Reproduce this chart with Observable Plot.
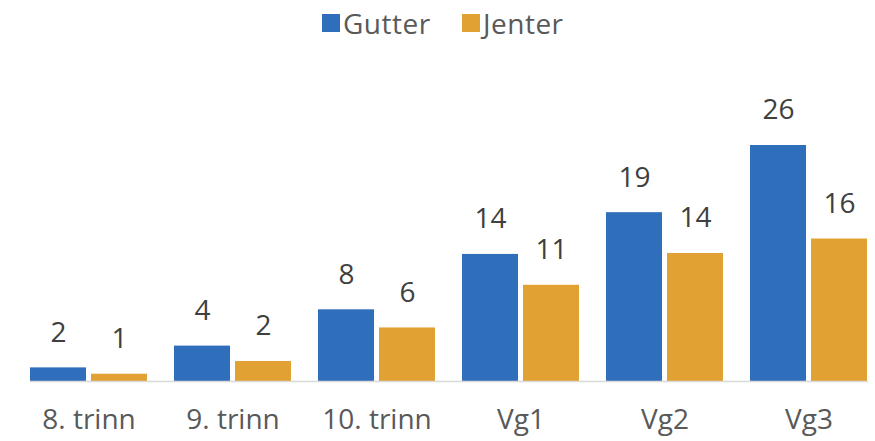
<!DOCTYPE html>
<html>
<head>
<meta charset="utf-8">
<script src="https://cdn.jsdelivr.net/npm/d3@7"></script>
<script src="https://cdn.jsdelivr.net/npm/@observablehq/plot@0.6"></script>
<style>
  html, body { margin: 0; padding: 0; background: #fff; }
  #legend { position: relative; height: 45px; font-family: "Open Sans", "Noto Sans", sans-serif; font-size: 28px; color: #595959; letter-spacing: 0.5px; }
  #legend .item { position: absolute; top: 4px; display: flex; align-items: center; gap: 3px; line-height: 38px; }
  #legend .sw { width: 18px; height: 18px; display: inline-block; }
</style>
</head>
<body>
<div id="legend"></div>
<div id="chart"></div>
<script>
const categories = ["8. trinn", "9. trinn", "10. trinn", "Vg1", "Vg2", "Vg3"];
const series = ["Gutter", "Jenter"];
// bar heights
const gutter = [1.5, 3.9, 7.9, 14.0, 18.6, 26.0];
const jenter = [0.8, 2.2, 5.9, 10.6, 14.1, 15.7];
// value labels as printed
const gutterLabels = ["2", "4", "8", "14", "19", "26"];
const jenterLabels = ["1", "2", "6", "11", "14", "16"];
const colors = ["#2f6eba", "#e1a133"];

const data = [];
categories.forEach((c, i) => {
  data.push({cat: c, sex: "Gutter", value: gutter[i], label: gutterLabels[i]});
  data.push({cat: c, sex: "Jenter", value: jenter[i], label: jenterLabels[i]});
});

const legend = document.getElementById("legend");
const legendLeft = [322, 462];
series.forEach((s, i) => {
  const it = document.createElement("span");
  it.className = "item";
  it.style.left = legendLeft[i] + "px";
  const sw = document.createElement("span");
  sw.className = "sw";
  sw.style.background = colors[i];
  it.appendChild(sw);
  it.appendChild(document.createTextNode(s));
  legend.appendChild(it);
});

const chart = Plot.plot({
  width: 875,
  height: 396,
  marginTop: 100,
  marginBottom: 60,
  marginLeft: 15,
  marginRight: 0,
  style: {fontFamily: "'Open Sans', 'Noto Sans', sans-serif", fontSize: "28px", color: "#595959", background: "#fff"},
  fx: {domain: categories, range: [15, 882], paddingInner: 0.19, paddingOuter: 0.1, label: null},
  x: {domain: series, paddingInner: 0.09, paddingOuter: 0, axis: null},
  y: {domain: [0, 26], axis: null},
  color: {domain: series, range: colors},
  marks: [
    Plot.barY(data, {fx: "cat", x: "sex", y: "value", fill: "sex"}),
    Plot.frame({anchor: "bottom", facet: "super", stroke: "#d9d9d9", strokeWidth: 1.5}),
    Plot.text(data, {fx: "cat", x: "sex", y: "value", text: "label", dy: -35, fontSize: 28, fill: "#404040"}),
    Plot.axisFx({anchor: "bottom", tickSize: 0, tickPadding: 28, label: null, fontSize: 28, fill: "#595959"})
  ]
});
document.getElementById("chart").appendChild(chart);
</script>
</body>
</html>
